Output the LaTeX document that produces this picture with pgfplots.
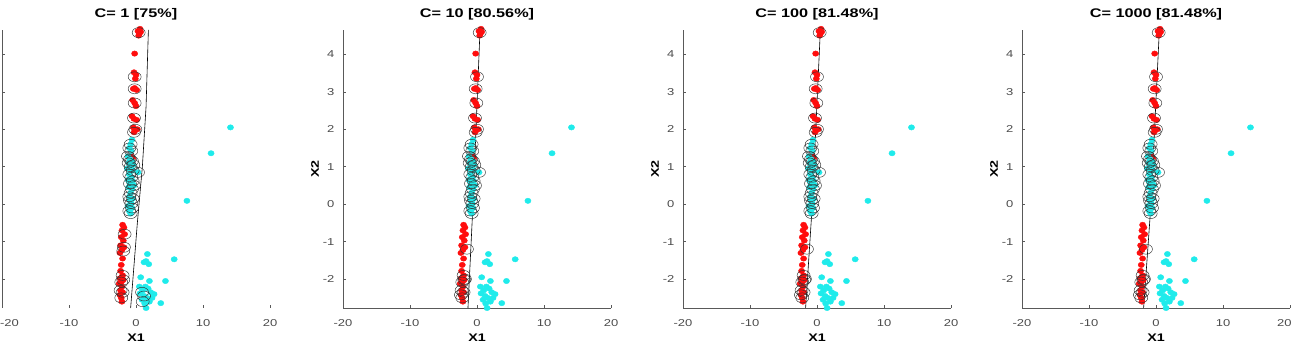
\documentclass[border=0pt]{standalone}
\usepackage{fontspec}
\setmainfont{Liberation Sans}[FakeStretch=1.3]
\usepackage{pgfplots}
\usepackage{pgfplotstable}
\pgfplotsset{compat=1.18}

\definecolor{svmred}{rgb}{1,0.05,0.05}
\definecolor{svmcyan}{rgb}{0.12,0.92,0.92}
\definecolor{axgray}{gray}{0.35}

% class 1 (red) samples
\pgfplotstableread{
x y
0.3 4.62
0.5 4.55
0.6 4.68
0.4 4.50
0.7 4.60
-0.2 4.02
-0.3 3.52
0.0 3.45
-0.1 3.35
-0.4 3.08
0.1 3.05
-0.2 3.10
-0.5 2.78
-0.2 2.70
0.0 2.62
-0.6 2.35
-0.3 2.28
0.1 2.25
-0.4 2.05
-0.1 1.98
0.2 2.00
-0.3 1.92
-0.8 1.35
-0.5 1.22
-0.9 1.05
-0.6 0.90
-2.0 -0.55
-1.8 -0.62
-2.1 -0.70
-1.7 -0.80
-2.2 -0.88
-1.9 -0.97
-2.3 -1.10
-1.8 -1.15
-2.1 -1.22
-2.4 -1.30
-2.0 -1.45
-2.2 -1.62
-2.3 -1.78
-2.0 -1.90
-2.4 -1.98
-1.9 -2.02
-2.2 -2.08
-2.5 -2.12
-2.1 -2.20
-2.3 -2.30
-2.0 -2.35
-2.4 -2.42
-2.2 -2.50
-2.1 -2.60
}\redpts

% class 2 (cyan) samples
\pgfplotstableread{
x y
-0.6 1.72
-0.8 1.60
-1.0 1.50
-0.7 1.42
-1.2 1.28
-0.9 1.20
-0.6 1.15
-1.1 1.10
-0.4 1.05
-0.8 1.00
-1.3 0.95
-0.5 0.90
0.3 0.85
-1.0 0.80
-0.7 0.72
-1.2 0.65
-0.5 0.62
-0.9 0.55
-0.3 0.50
-1.1 0.45
-0.6 0.40
-0.8 0.30
-1.0 0.20
-0.5 0.15
-0.9 0.10
-0.7 0.02
-1.2 -0.05
-0.6 -0.10
-1.0 -0.18
-0.8 -0.25
1.7 -1.33
1.2 -1.55
1.9 -1.60
1.5 -1.52
5.7 -1.47
0.7 -1.95
2.0 -2.05
4.4 -2.05
0.6 -2.38
1.0 -2.30
1.4 -2.20
1.8 -2.25
2.2 -2.35
2.7 -2.40
1.2 -2.45
0.9 -2.55
1.6 -2.50
2.0 -2.60
1.3 -2.65
3.7 -2.64
1.5 -2.77
2.4 -2.50
0.5 -2.20
7.6 0.09
11.2 1.36
14.1 2.05
}\cyanpts

% support vectors, C = 1
\pgfplotstableread{
x y
0.4 4.58
-0.2 3.40
-0.2 3.08
-0.2 2.70
-0.3 2.30
-0.1 2.00
-0.3 1.92
-0.8 1.60
-1.0 1.50
-0.7 1.42
-1.2 1.28
-0.9 1.20
-0.6 1.15
-1.1 1.10
-0.4 1.05
-0.8 1.00
-0.5 0.90
0.3 0.85
-1.0 0.80
-0.7 0.72
-0.5 0.62
-0.9 0.55
-0.3 0.50
-0.6 0.40
-0.8 0.30
-1.0 0.20
-0.5 0.15
-0.9 0.10
-0.7 0.02
-0.6 -0.10
-1.0 -0.18
-0.8 -0.25
-1.7 -0.80
-1.8 -1.15
-1.9 -1.25
-2.0 -1.90
-1.9 -2.02
-2.2 -2.08
-2.3 -2.30
-2.0 -2.35
-2.2 -2.50
0.9 -2.35
1.2 -2.45
1.0 -2.60
}\svone

% support vectors, C >= 10
\pgfplotstableread{
x y
0.4 4.58
0.0 3.40
-0.2 3.08
-0.1 2.70
-0.3 2.30
0.0 2.00
-0.2 1.92
-0.8 1.60
-1.0 1.50
-0.7 1.42
-1.2 1.28
-0.9 1.20
-0.6 1.15
-1.1 1.10
-0.4 1.05
-0.8 1.00
-0.5 0.90
0.3 0.85
-1.0 0.80
-0.7 0.72
-0.5 0.62
-0.9 0.55
-0.3 0.50
-0.6 0.40
-0.8 0.30
-1.0 0.20
-0.5 0.15
-0.9 0.10
-0.7 0.02
-0.6 -0.10
-1.0 -0.18
-0.8 -0.25
-1.5 -1.20
-2.0 -1.90
-1.9 -2.02
-2.2 -2.08
-1.8 -2.00
-2.3 -2.30
-2.0 -2.35
-2.4 -2.42
-2.2 -2.50
}\svten

\pgfplotsset{
  svmpanel/.style={
    scale only axis, width=268pt, height=278pt,
    xmin=-20, xmax=20, ymin=-2.77, ymax=4.65,
    xtick={-20,-10,0,10,20}, ytick={-2,-1,0,1,2,3,4},
    axis lines*=left,
    axis line style={axgray, line width=0.6pt, -},
    tick align=inside, major tick length=3pt,
    tick style={axgray, line width=0.5pt},
    /pgf/number format/assume math mode=true,
    tick label style={font=\fontsize{10}{11}\selectfont, text=black!70},
    xticklabel style={anchor=center, yshift=-15pt},
    yticklabel style={anchor=east, xshift=-5pt},
    title style={at={(axis description cs:0.5,1.036)}, anchor=center,
                 font=\bfseries\fontsize{12.5}{13}\selectfont},
    xlabel={X1},
    xlabel style={at={(axis description cs:0.5,-0.108)}, anchor=center,
                  font=\bfseries\fontsize{11}{12}\selectfont},
    ylabel={X2},
    ylabel style={at={(axis description cs:-0.104,0.5)}, anchor=center,
                  font=\bfseries\fontsize{11}{12}\selectfont},
    clip=false,
  },
  redmark/.style={only marks, mark=*, mark size=2.7pt,
    mark options={draw=svmred, fill=svmred, xscale=1.15}},
  cyanmark/.style={only marks, mark=*, mark size=2.7pt,
    mark options={draw=svmcyan, fill=svmcyan, xscale=1.15}},
  svmark/.style={only marks, mark=o, mark size=5pt,
    mark options={draw=black!80, line width=0.45pt, xscale=1.3}},
  boundary/.style={black, line width=0.6pt, no marks},
}

\begin{document}
\begin{tikzpicture}[x=1pt, y=1pt]
\useasboundingbox (0,0) rectangle (1293,345);
\clip (0,0) rectangle (1293,345);

% C = 1 (left edge of the figure: y labels fall outside the frame)
\begin{axis}[svmpanel, at={(2pt,37pt)}, anchor=south west,
    title={C= 1 [75\%]}, x axis line style={draw=none},
    yticklabels={}, ylabel={},
    xticklabels={\makebox[0pt][l]{\hspace{-2pt}-20},-10,0,10,20}]
  \addplot[redmark] table {\redpts};
  \addplot[cyanmark] table {\cyanpts};
  \addplot[svmark] table {\svone};
  \addplot[boundary] coordinates {(-0.8,-2.77) (0.2,-0.5) (0.95,1.0) (1.5,2.6) (1.85,4.65)};
\end{axis}

% C = 10
\begin{axis}[svmpanel, at={(343pt,37pt)}, anchor=south west,
    title={C= 10 [80.56\%]}]
  \addplot[redmark] table {\redpts};
  \addplot[cyanmark] table {\cyanpts};
  \addplot[svmark] table {\svten};
  \addplot[boundary] coordinates {(-1.35,-2.77) (-0.6,0) (0.45,4.65)};
\end{axis}

% C = 100
\begin{axis}[svmpanel, at={(683pt,37pt)}, anchor=south west,
    title={C= 100 [81.48\%]}]
  \addplot[redmark] table {\redpts};
  \addplot[cyanmark] table {\cyanpts};
  \addplot[svmark] table {\svten};
  \addplot[boundary] coordinates {(-1.7,-2.77) (-0.7,0) (0.5,4.65)};
\end{axis}

% C = 1000 (right edge of the figure)
\begin{axis}[svmpanel, at={(1022pt,37pt)}, anchor=south west,
    title={C= 1000 [81.48\%]},
    xticklabels={-20,-10,0,10,\makebox[0pt][r]{20\hspace{-1.5pt}}}]
  \addplot[redmark] table {\redpts};
  \addplot[cyanmark] table {\cyanpts};
  \addplot[svmark] table {\svten};
  \addplot[boundary] coordinates {(-1.85,-2.77) (-0.75,0) (0.5,4.65)};
\end{axis}
\end{tikzpicture}
\end{document}
